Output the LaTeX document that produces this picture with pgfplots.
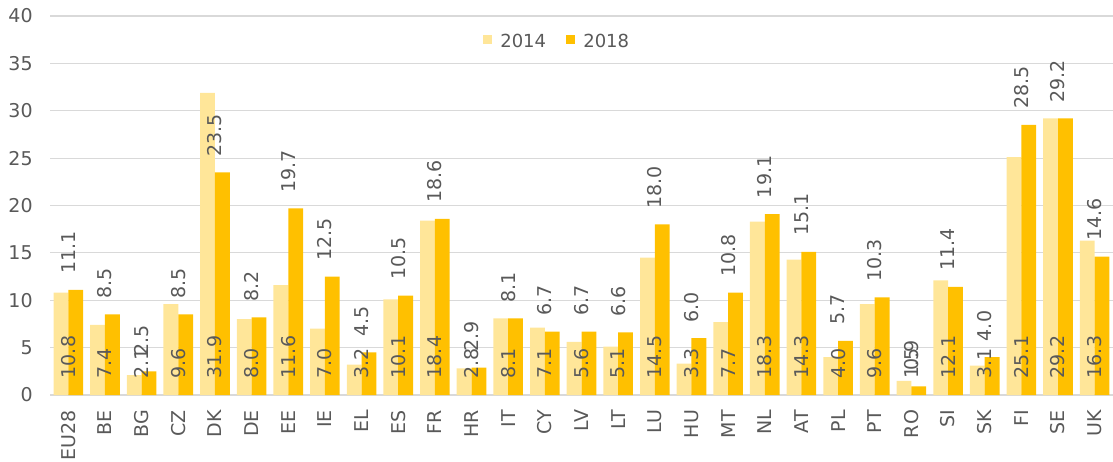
\documentclass[border=0pt]{standalone}
\usepackage{pgfplots}
\pgfplotsset{compat=1.18}
\usepackage{pgfplotstable}
\usepackage{fontspec}
\setmainfont{DejaVu Sans}
\definecolor{c14}{HTML}{FFE699}
\definecolor{c18}{HTML}{FFC000}
\definecolor{txt}{HTML}{595959}
\definecolor{gridc}{HTML}{D9D9D9}

\pgfplotstableread{
x c a b z
0 EU28 10.8 11.1 0
1 BE 7.4 8.5 0
2 BG 2.1 2.5 0
3 CZ 9.6 8.5 0
4 DK 31.9 23.5 0
5 DE 8.0 8.2 0
6 EE 11.6 19.7 0
7 IE 7.0 12.5 0
8 EL 3.2 4.5 0
9 ES 10.1 10.5 0
10 FR 18.4 18.6 0
11 HR 2.8 2.9 0
12 IT 8.1 8.1 0
13 CY 7.1 6.7 0
14 LV 5.6 6.7 0
15 LT 5.1 6.6 0
16 LU 14.5 18.0 0
17 HU 3.3 6.0 0
18 MT 7.7 10.8 0
19 NL 18.3 19.1 0
20 AT 14.3 15.1 0
21 PL 4.0 5.7 0
22 PT 9.6 10.3 0
23 RO 1.5 0.9 0
24 SI 12.1 11.4 0
25 SK 3.1 4.0 0
26 FI 25.1 28.5 0
27 SE 29.2 29.2 0
28 UK 16.3 14.6 0
}\data

\newcommand{\fs}{\fontsize{9.5}{11}\selectfont}
\newcommand{\fsl}{\fontsize{9}{11}\selectfont}

\begin{document}
\begin{tikzpicture}
\useasboundingbox (0,0) rectangle (556.5pt,230.5pt);
\begin{axis}[
  at={(25pt,33pt)}, anchor=south west,
  scale only axis, width=531.5pt, height=189.5pt,
  xmin=-0.5, xmax=28.5, ymin=0, ymax=40,
  ytick={0,5,...,40},
  xtick={0,...,28},
  xticklabels from table={\data}{c},
  axis line style={draw=none},
  major tick length=0pt,
  ymajorgrids, grid style={gridc, line width=0.6pt},
  font=\fs,
  every tick label/.append style={text=txt, font=\fs},
  /pgf/number format/assume math mode=true,
  yticklabel style={anchor=east, inner sep=0pt, xshift=-8.5pt},
  xticklabel style={rotate=90, anchor=east, inner sep=0pt, outer xsep=7.5pt},
  legend style={at={(0.478,0.931)}, anchor=center, draw=none, fill=none,
    legend columns=-1, text=txt, font=\fsl,
    /tikz/every odd column/.append style={column sep=2.2pt},
    /tikz/every even column/.append style={column sep=8pt}},
]
\addplot[ybar, bar width=7.4pt, bar shift=-3.7pt, fill=c14, draw=none,
  legend image code/.code={\fill[c14] (0pt,-0.9pt) rectangle (4.4pt,3.5pt);}]
  table[x=x, y=a]{\data};
\addlegendentry{2014}
\addplot[ybar, bar width=7.4pt, bar shift=3.7pt, fill=c18, draw=none,
  legend image code/.code={\fill[c18] (0pt,-0.9pt) rectangle (4.4pt,3.5pt);},
  point meta=y,
  nodes near coords={\pgfmathprintnumber[fixed,fixed zerofill,precision=1]{\pgfplotspointmeta}},
  every node near coord/.append style={rotate=90, anchor=west, inner sep=0pt, outer xsep=8pt, text=txt, font=\fs}]
  table[x=x, y=b]{\data};
\addlegendentry{2018}
\addplot[ybar, bar width=7.4pt, bar shift=-3.7pt, draw=none, fill=none, forget plot,
  point meta=explicit,
  nodes near coords={\pgfmathprintnumber[fixed,fixed zerofill,precision=1]{\pgfplotspointmeta}},
  every node near coord/.append style={rotate=90, anchor=west, inner sep=0pt, outer xsep=8.4pt, text=txt, font=\fs}]
  table[x=x, y=z, meta=a]{\data};
\end{axis}
\end{tikzpicture}
\end{document}
